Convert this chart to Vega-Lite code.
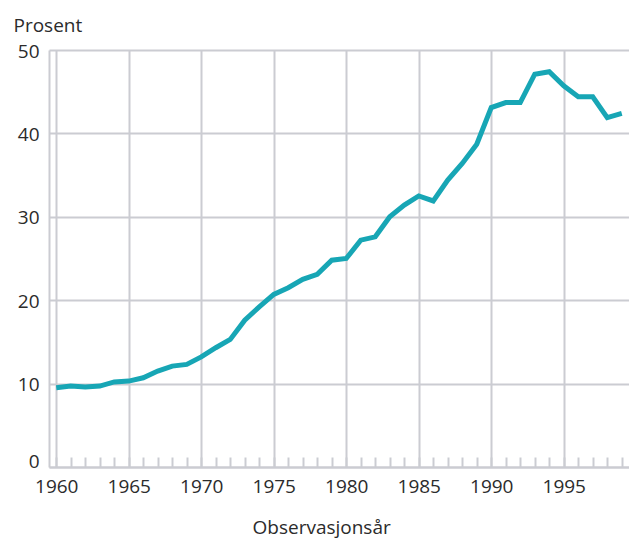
{
  "$schema": "https://vega.github.io/schema/vega-lite/v6.json",
  "width": 580,
  "height": 417,
  "autosize": "none",
  "padding": {"left": 49, "top": 50, "right": 0, "bottom": 71},
  "background": "white",
  "config": {"view": {"stroke": null}, "font": "Open Sans"},
  "data": {"values": [
    {"year": 1960, "value": 9.5},
    {"year": 1961, "value": 9.7},
    {"year": 1962, "value": 9.6},
    {"year": 1963, "value": 9.7},
    {"year": 1964, "value": 10.2},
    {"year": 1965, "value": 10.3},
    {"year": 1966, "value": 10.7},
    {"year": 1967, "value": 11.5},
    {"year": 1968, "value": 12.1},
    {"year": 1969, "value": 12.3},
    {"year": 1970, "value": 13.2},
    {"year": 1971, "value": 14.3},
    {"year": 1972, "value": 15.3},
    {"year": 1973, "value": 17.6},
    {"year": 1974, "value": 19.2},
    {"year": 1975, "value": 20.7},
    {"year": 1976, "value": 21.5},
    {"year": 1977, "value": 22.5},
    {"year": 1978, "value": 23.1},
    {"year": 1979, "value": 24.8},
    {"year": 1980, "value": 25.0},
    {"year": 1981, "value": 27.2},
    {"year": 1982, "value": 27.6},
    {"year": 1983, "value": 30.0},
    {"year": 1984, "value": 31.4},
    {"year": 1985, "value": 32.5},
    {"year": 1986, "value": 31.9},
    {"year": 1987, "value": 34.4},
    {"year": 1988, "value": 36.4},
    {"year": 1989, "value": 38.7},
    {"year": 1990, "value": 43.1},
    {"year": 1991, "value": 43.7},
    {"year": 1992, "value": 43.7},
    {"year": 1993, "value": 47.1},
    {"year": 1994, "value": 47.4},
    {"year": 1995, "value": 45.7},
    {"year": 1996, "value": 44.4},
    {"year": 1997, "value": 44.4},
    {"year": 1998, "value": 41.9},
    {"year": 1999, "value": 42.4}
  ]},
  "mark": {"type": "line", "color": "#17a6b5", "strokeWidth": 5, "strokeJoin": "miter", "strokeCap": "butt"},
  "encoding": {
    "x": {
      "field": "year",
      "type": "quantitative",
      "scale": {"domain": [1959.5, 1999.5], "nice": false, "zero": false},
      "axis": {
        "values": [1960,1961,1962,1963,1964,1965,1966,1967,1968,1969,1970,1971,1972,1973,1974,1975,1976,1977,1978,1979,1980,1981,1982,1983,1984,1985,1986,1987,1988,1989,1990,1991,1992,1993,1994,1995,1996,1997,1998,1999],
        "labelExpr": "datum.value % 5 === 0 ? '' + datum.value : ''",
        "labelOverlap": false,
        "labelFlush": false,
        "labelFontSize": 19,
        "labelColor": "#2b2b2b",
        "labelPadding": 20,
        "tickSize": -10,
        "tickWidth": 2,
        "tickColor": "#cbccd2",
        "domainColor": "#cbccd2",
        "domainWidth": 2,
        "grid": true,
        "gridColor": "#cbccd2",
        "gridWidth": 2,
        "gridOpacity": {"condition": {"test": "datum.value % 5 === 0", "value": 1}, "value": 0},
        "title": "Observasjonsår",
        "titleFontSize": 19,
        "titleFontWeight": "normal",
        "titleColor": "#2b2b2b",
        "titleAlign": "left",
        "titleBaseline": "alphabetic",
        "titleX": 203,
        "titleY": 66
      }
    },
    "y": {
      "field": "value",
      "type": "quantitative",
      "scale": {"domain": [0, 50], "nice": false},
      "axis": {
        "values": [0, 10, 20, 30, 40, 50],
        "labelFontSize": 19,
        "labelColor": "#2b2b2b",
        "labelPadding": 10,
        "labelOffset": {"condition": {"test": "datum.value === 0", "value": -6}, "value": 1},
        "ticks": false,
        "domainColor": "#cbccd2",
        "domainWidth": 2,
        "grid": true,
        "gridColor": "#cbccd2",
        "gridWidth": 2,
        "title": "Prosent",
        "titleFontSize": 19,
        "titleFontWeight": "normal",
        "titleColor": "#2b2b2b",
        "titleAngle": 0,
        "titleAlign": "left",
        "titleBaseline": "alphabetic",
        "titleX": -36,
        "titleY": -19
      }
    }
  }
}
